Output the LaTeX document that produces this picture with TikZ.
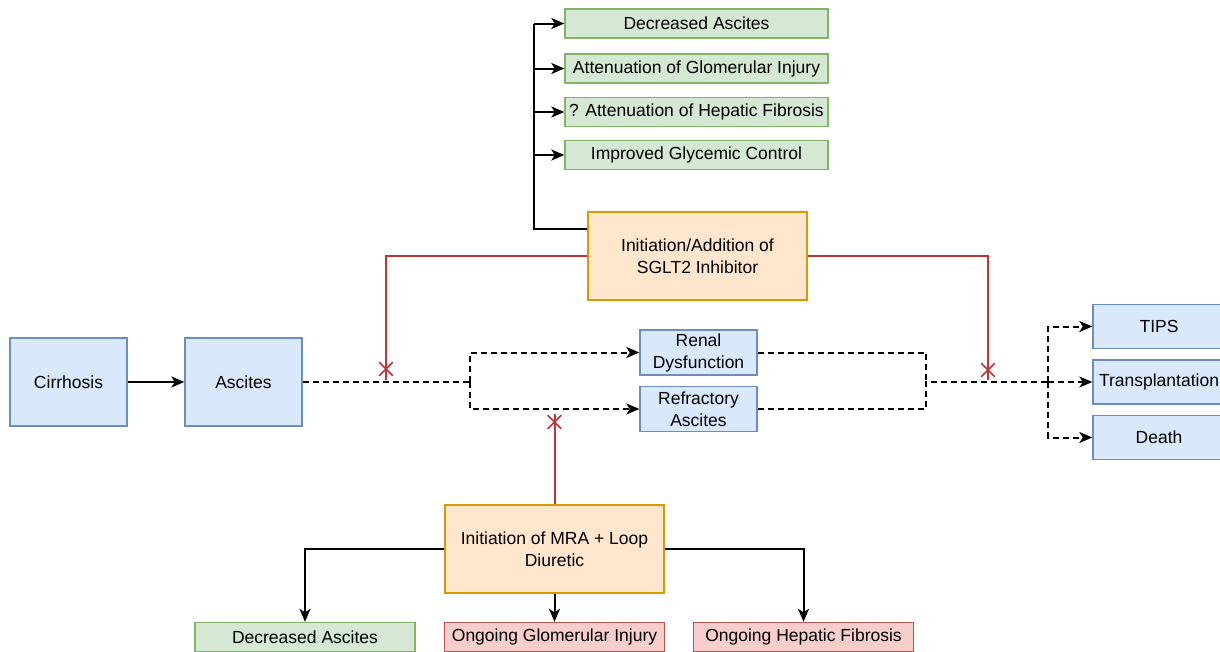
\documentclass[tikz,border=0pt]{standalone}
\usepackage{fontspec}
\setmainfont{Liberation Sans}
\usetikzlibrary{arrows.meta,shapes.misc,calc}
\definecolor{bluefill}{HTML}{DAE8FC}
\definecolor{blueline}{HTML}{6C8EBF}
\definecolor{greenfill}{HTML}{D5E8D4}
\definecolor{greenline}{HTML}{82B366}
\definecolor{orangefill}{HTML}{FFE6CC}
\definecolor{orangeline}{HTML}{D79B00}
\definecolor{redfill}{HTML}{F8CECC}
\definecolor{redline}{HTML}{B85450}
\definecolor{blockred}{HTML}{BF3434}
\tikzset{
	box/.style={draw,line width=1.4pt,align=center,inner sep=0pt,font=\fontsize{17.5}{22}\selectfont},
	bluebox/.style={box,fill=bluefill,draw=blueline},
	greenbox/.style={box,fill=greenfill,draw=greenline,minimum height=29pt},
	orangebox/.style={box,fill=orangefill,draw=orangeline,minimum width=219pt,minimum height=88pt},
	redbox/.style={box,fill=redfill,draw=redline,minimum height=29pt,minimum width=220pt},
	flow/.style={line width=2pt,-{Stealth[length=13pt,width=11pt,inset=3.5pt]}},
	link/.style={line width=2pt},
	dashflow/.style={flow,dash pattern=on 6pt off 4pt},
	dashlink/.style={link,dash pattern=on 6pt off 4pt},
	block/.style={line width=2pt,draw=blockred},
	blockmark/.style={cross out,draw=blockred,line width=1.6pt,minimum size=12pt,inner sep=0pt}
}
\begin{document}
\begin{tikzpicture}[x=1pt,y=-1pt]
	\useasboundingbox (0,0) rectangle (1220,651);
	% main course
	\node[bluebox,minimum width=117pt,minimum height=88pt] (cirr) at (68.5,382) {Cirrhosis};
	\node[bluebox,minimum width=117pt,minimum height=88pt] (asc) at (243.5,382) {Ascites};
	\node[bluebox,minimum width=117pt,minimum height=45pt] (renal) at (698.5,352.5) {Renal\\Dysfunction};
	\node[bluebox,minimum width=117pt,minimum height=45pt] (refr) at (698.5,409) {Refractory\\Ascites};
	\foreach \name/\y/\txt in {tips/326.5/TIPS,transp/382/Transplantation,death/437.5/Death}
		\node[bluebox,minimum width=132pt,minimum height=44pt] (\name) at (1159,\y) {\txt};
	% treatments
	\node[orangebox] (sglt) at (697.5,256) {Initiation/Addition of\\SGLT2 Inhibitor};
	\node[orangebox] (mra) at (554.5,549) {Initiation of MRA + Loop\\Diuretic};
	\foreach \name/\y/\txt in {ga/23.5/Decreased Ascites,gb/68.5/Attenuation of Glomerular Injury,gc/112/? Attenuation of Hepatic Fibrosis,gd/155/Improved Glycemic Control}
		\node[greenbox,minimum width=263pt] (\name) at (696.5,\y) {\txt};
	\node[greenbox,minimum width=220pt] (ba) at (305,637) {Decreased Ascites};
	\node[redbox] (bb) at (554.5,637) {Ongoing Glomerular Injury};
	\node[redbox] (bc) at (803.5,637) {Ongoing Hepatic Fibrosis};
	% connectors
	\draw[flow] (cirr) -- (asc);
	\coordinate (splitl) at (470,382);
	\coordinate (merge) at (926,382);
	\coordinate (splitr) at (1048,382);
	\draw[dashlink] (asc.east) -- (splitl);
	\draw[dashflow] (splitl) |- (renal.west);
	\draw[dashflow] (splitl) |- (refr.west);
	\draw[dashlink] (renal.east) -| (merge);
	\draw[dashlink] (refr.east) -| (merge) -- (splitr);
	\draw[dashflow] (splitr) |- (tips.west);
	\draw[dashflow] (splitr) -- (transp.west);
	\draw[dashflow] (splitr) |- (death.west);
	\coordinate (sgltout) at ($(sglt.north west)!0.2!(sglt.south west)$);
	\coordinate (bus) at ($(sgltout)+(-53,0)$);
	\draw[link] (sgltout) -- (bus) -- (bus |- ga.west);
	\foreach \g in {ga,gb,gc,gd}
		\draw[flow] (bus |- \g.west) -- (\g.west);
	\draw[flow] (mra.west) -| (ba.north);
	\draw[flow] (mra.south) -- (bb.north);
	\draw[flow] (mra.east) -| (bc.north);
	% blocked paths
	\coordinate (blka) at (386,380);
	\coordinate (blkb) at (988,380);
	\coordinate (blkc) at (554.5,414);
	\draw[block] (sglt.west) -| (blka);
	\draw[block] (sglt.east) -| (blkb);
	\draw[block] (mra.north) -- (blkc);
	\node[blockmark] (xa) at (386,369) {};
	\node[blockmark] (xb) at (988,370) {};
	\node[blockmark] (xc) at (554.5,422) {};
\end{tikzpicture}
\end{document}
